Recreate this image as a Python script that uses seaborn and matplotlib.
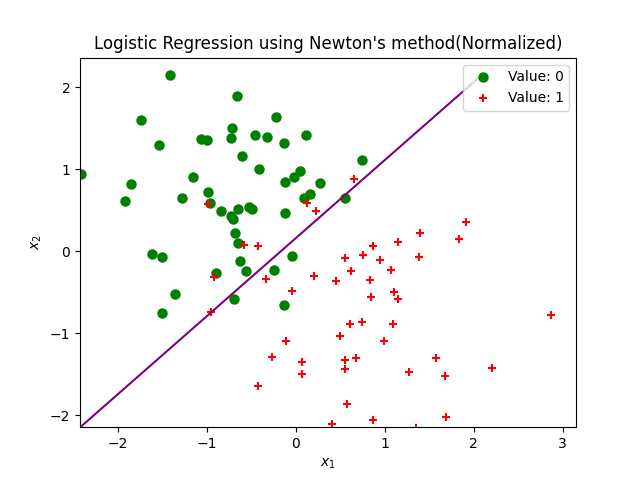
import numpy as np
import pandas as pd
import seaborn as sns
import matplotlib
matplotlib.use('Agg')
import matplotlib.pyplot as plt

# normalized samples, class 0
x1_class0 = [-1.412, -0.660, -1.738, -0.716, -1.067, -0.996, -0.727, -1.536, -0.603, -0.461,
             -2.416, -1.157, -1.854, -0.221, -0.322, -0.131, 0.112, -0.412, 0.048, -0.019,
             -0.120, 0.273, 0.740, -0.985, -1.278, -0.966, 0.161, 0.093, 0.551, -0.839,
             -0.648, -0.528, -0.491, -0.727, -0.704, -0.124, -1.918, -0.685, -0.648, -1.614,
             -1.502, -0.626, -0.558, -0.895, -1.356, -0.693, -1.502, -0.041, -0.244, -0.131]
x2_class0 = [2.149, 1.892, 1.602, 1.505, 1.370, 1.354, 1.382, 1.297, 1.162, 1.419,
             0.938, 0.901, 0.816, 1.635, 1.390, 1.317, 1.419, 1.007, 0.979, 0.901,
             0.844, 0.832, 1.110, 0.718, 0.645, 0.583, 0.697, 0.648, 0.648, 0.486,
             0.510, 0.542, 0.510, 0.428, 0.395, 0.473, 0.612, 0.228, 0.106, -0.037,
             -0.069, -0.114, -0.236, -0.269, -0.518, -0.579, -0.750, -0.061, -0.224, -0.652]

# class 1
x1_class1 = [-0.989, 0.131, 0.232, 0.655, -0.584, -0.914, -0.947, -0.427, -0.337, -0.037,
             0.202, -0.112, 0.551, 0.618, 0.449, 0.760, 0.865, 1.146, 0.944, 1.067,
             0.831, 0.843, 1.109, 1.146, 1.393, 1.382, 0.607, 0.742, 1.090, 0.494,
             0.989, -0.262, 0.075, 0.075, 0.558, 0.674, 0.558, 1.277, -0.427, 0.581,
             0.404, 0.873, 1.356, 1.918, 1.839, 2.873, 1.573, 1.674, 2.202, 1.685]
x2_class1 = [0.575, 0.591, 0.493, 0.884, 0.077, -0.314, -0.746, 0.061, -0.343, -0.486,
             -0.302, -1.097, -0.082, -0.245, -0.363, -0.045, 0.065, 0.110, -0.110, -0.232,
             -0.355, -0.559, -0.498, -0.587, 0.224, -0.065, -0.889, -0.860, -0.889, -1.028,
             -1.097, -1.284, -1.346, -1.501, -1.321, -1.305, -1.431, -1.476, -1.639, -1.856,
             -2.104, -2.063, -2.149, 0.358, 0.147, -0.771, -1.297, -1.517, -1.419, -2.018]

# fitted parameters (theta0 + theta1*x1 + theta2*x2 = 0)
theta = [0.16, 0.952, -1.0]


def main():
    df0 = pd.DataFrame({'x1': x1_class0, 'x2': x2_class0})
    df1 = pd.DataFrame({'x1': x1_class1, 'x2': x2_class1})

    fig, ax = plt.subplots(figsize=(6.4, 4.8), dpi=100)

    sns.scatterplot(ax=ax, data=df0, x='x1', y='x2', color='green', marker='o',
                    s=36, edgecolor='green', linewidth=1.5, label='Value: 0')
    sns.scatterplot(ax=ax, data=df1, x='x1', y='x2', color='red', marker='+',
                    s=36, linewidth=1.5, label='Value: 1')

    # decision boundary between the lowest and highest x2 of the data
    all_x2 = np.concatenate([x2_class0, x2_class1])
    ys = np.array([all_x2.min(), all_x2.max()])
    xs = -(theta[0] + theta[2] * ys) / theta[1]
    sns.lineplot(ax=ax, x=xs, y=ys, color='purple', linewidth=1.5)

    ax.set_xlim(-2.424, 3.149)
    ax.set_ylim(-2.145, 2.362)

    ax.set_title("Logistic Regression using Newton's method(Normalized)")
    ax.set_xlabel('$x_1$')
    ax.set_ylabel('$x_2$')
    ax.legend(loc='upper right')

    plt.savefig('out.png', dpi=100)


if __name__ == '__main__':
    main()
